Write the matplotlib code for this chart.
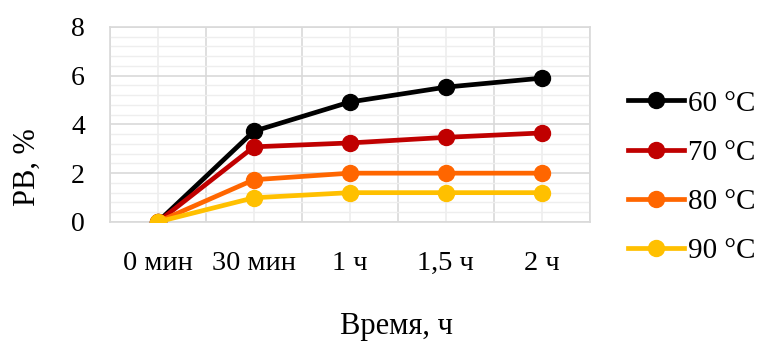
import matplotlib.pyplot as plt
from matplotlib.ticker import MultipleLocator

plt.rcParams['font.family'] = ['Liberation Serif', 'DejaVu Serif']

categories = ["0 мин", "30 мин", "1 ч", "1,5 ч", "2 ч"]
labels = ["60 °C", "70 °C", "80 °C", "90 °C"]
t60 = [0, 3.72, 4.92, 5.53, 5.9]
t70 = [0, 3.08, 3.24, 3.47, 3.65]
t80 = [0, 1.73, 2.0, 2.0, 2.0]
t90 = [0, 0.99, 1.2, 1.2, 1.2]
colors = ["#000000", "#C00000", "#FF6600", "#FFC000"]

fig = plt.figure(figsize=(7.63, 3.5), dpi=100)
ax = fig.add_axes([0.144, 0.366, 0.629, 0.557])

x = range(len(categories))
for ys, lab, c in zip([t60, t70, t80, t90], labels, colors):
    ax.plot(x, ys, '-o', color=c, lw=3.4, ms=11.5, label=lab, zorder=3)

ax.set_xlim(-0.5, len(categories) - 0.5)
ax.set_ylim(0, 8)
ax.set_yticks([0, 2, 4, 6, 8])
ax.yaxis.set_minor_locator(MultipleLocator(0.4))
ax.set_xticks(list(x))
ax.set_xticklabels(categories)
ax.set_xticks([i + 0.5 for i in range(-1, len(categories))], minor=True)

# Excel-like grid: major lines at category borders, lighter at centres
ax.grid(which='minor', axis='x', color='#d9d9d9', lw=1.2)
ax.grid(which='major', axis='x', color='#eeeeee', lw=1.2)
ax.grid(which='major', axis='y', color='#d9d9d9', lw=1.2)
ax.grid(which='minor', axis='y', color='#eeeeee', lw=1.0)
ax.set_axisbelow(True)
ax.tick_params(which='both', length=0)
ax.tick_params(axis='y', labelsize=20, pad=18)
ax.tick_params(axis='x', labelsize=20.5, pad=21)
for s in ax.spines.values():
    s.set_color('#d9d9d9')
    s.set_linewidth(1.2)

fig.text(0.036, 0.523, "РВ, %", fontsize=22, rotation=90, ha='center', va='center')
fig.text(0.52, 0.066, "Время, ч", fontsize=22, ha='center', va='center')

fig.legend(loc='center left', bbox_to_anchor=(0.789, 0.494), frameon=False,
           fontsize=21, handlelength=1.9, handletextpad=0.15, labelspacing=0.78)

fig.savefig("out.png", dpi=100)
